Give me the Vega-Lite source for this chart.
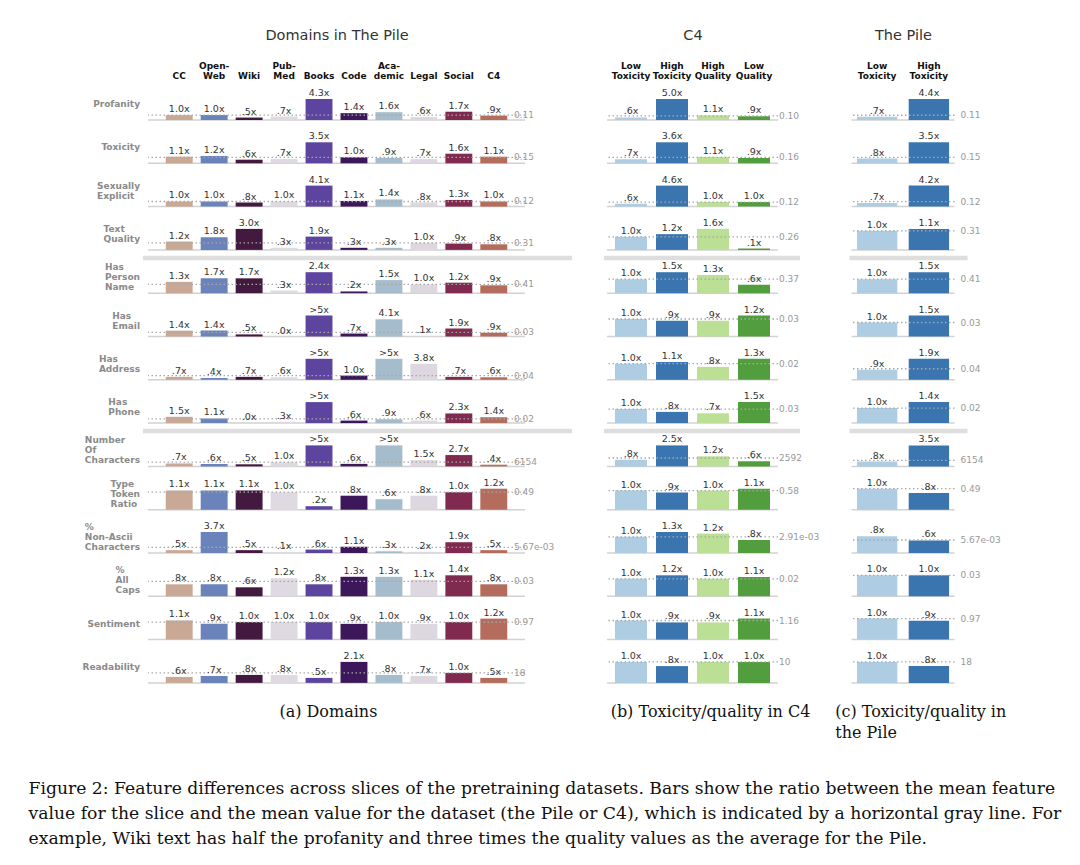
{
"$schema": "https://vega.github.io/schema/vega-lite/v6.json",
"background": "white",
"padding": {"left": 28, "top": 27, "right": 5, "bottom": 5},
"config": {"view": {"stroke": null}, "font": "DejaVu Sans", "axisY": {"disable": true}},
"title": {"text": ["Figure 2: Feature differences across slices of the pretraining datasets. Bars show the ratio between the mean feature", "value for the slice and the mean value for the dataset (the Pile or C4), which is indicated by a horizontal gray line. For", "example, Wiki text has half the profanity and three times the quality values as the average for the Pile."], "orient": "bottom", "anchor": "start", "font": "DejaVu Serif", "fontSize": 17.2, "fontWeight": "normal", "lineHeight": 25, "offset": 39, "dx": -54, "color": "#111"},
"datasets": {
"a": [
{"f":"Profanity","s":"CC","v":1.0,"t":"1.0x"},{"f":"Profanity","s":"Open-Web","v":1.0,"t":"1.0x"},{"f":"Profanity","s":"Wiki","v":0.5,"t":".5x"},{"f":"Profanity","s":"PubMed","v":0.7,"t":".7x"},{"f":"Profanity","s":"Books","v":4.3,"t":"4.3x"},{"f":"Profanity","s":"Code","v":1.4,"t":"1.4x"},{"f":"Profanity","s":"Academic","v":1.6,"t":"1.6x"},{"f":"Profanity","s":"Legal","v":0.6,"t":".6x"},{"f":"Profanity","s":"Social","v":1.7,"t":"1.7x"},{"f":"Profanity","s":"C4","v":0.9,"t":".9x"},
{"f":"Toxicity","s":"CC","v":1.1,"t":"1.1x"},{"f":"Toxicity","s":"Open-Web","v":1.2,"t":"1.2x"},{"f":"Toxicity","s":"Wiki","v":0.6,"t":".6x"},{"f":"Toxicity","s":"PubMed","v":0.7,"t":".7x"},{"f":"Toxicity","s":"Books","v":3.5,"t":"3.5x"},{"f":"Toxicity","s":"Code","v":1.0,"t":"1.0x"},{"f":"Toxicity","s":"Academic","v":0.9,"t":".9x"},{"f":"Toxicity","s":"Legal","v":0.7,"t":".7x"},{"f":"Toxicity","s":"Social","v":1.6,"t":"1.6x"},{"f":"Toxicity","s":"C4","v":1.1,"t":"1.1x"},
{"f":"Sexually Explicit","s":"CC","v":1.0,"t":"1.0x"},{"f":"Sexually Explicit","s":"Open-Web","v":1.0,"t":"1.0x"},{"f":"Sexually Explicit","s":"Wiki","v":0.8,"t":".8x"},{"f":"Sexually Explicit","s":"PubMed","v":1.0,"t":"1.0x"},{"f":"Sexually Explicit","s":"Books","v":4.1,"t":"4.1x"},{"f":"Sexually Explicit","s":"Code","v":1.1,"t":"1.1x"},{"f":"Sexually Explicit","s":"Academic","v":1.4,"t":"1.4x"},{"f":"Sexually Explicit","s":"Legal","v":0.8,"t":".8x"},{"f":"Sexually Explicit","s":"Social","v":1.3,"t":"1.3x"},{"f":"Sexually Explicit","s":"C4","v":1.0,"t":"1.0x"},
{"f":"Text Quality","s":"CC","v":1.2,"t":"1.2x"},{"f":"Text Quality","s":"Open-Web","v":1.8,"t":"1.8x"},{"f":"Text Quality","s":"Wiki","v":3.0,"t":"3.0x"},{"f":"Text Quality","s":"PubMed","v":0.3,"t":".3x"},{"f":"Text Quality","s":"Books","v":1.9,"t":"1.9x"},{"f":"Text Quality","s":"Code","v":0.3,"t":".3x"},{"f":"Text Quality","s":"Academic","v":0.3,"t":".3x"},{"f":"Text Quality","s":"Legal","v":1.0,"t":"1.0x"},{"f":"Text Quality","s":"Social","v":0.9,"t":".9x"},{"f":"Text Quality","s":"C4","v":0.8,"t":".8x"},
{"f":"Has Person Name","s":"CC","v":1.3,"t":"1.3x"},{"f":"Has Person Name","s":"Open-Web","v":1.7,"t":"1.7x"},{"f":"Has Person Name","s":"Wiki","v":1.7,"t":"1.7x"},{"f":"Has Person Name","s":"PubMed","v":0.3,"t":".3x"},{"f":"Has Person Name","s":"Books","v":2.4,"t":"2.4x"},{"f":"Has Person Name","s":"Code","v":0.2,"t":".2x"},{"f":"Has Person Name","s":"Academic","v":1.5,"t":"1.5x"},{"f":"Has Person Name","s":"Legal","v":1.0,"t":"1.0x"},{"f":"Has Person Name","s":"Social","v":1.2,"t":"1.2x"},{"f":"Has Person Name","s":"C4","v":0.9,"t":".9x"},
{"f":"Has Email","s":"CC","v":1.4,"t":"1.4x"},{"f":"Has Email","s":"Open-Web","v":1.4,"t":"1.4x"},{"f":"Has Email","s":"Wiki","v":0.5,"t":".5x"},{"f":"Has Email","s":"PubMed","v":0.0,"t":".0x"},{"f":"Has Email","s":"Books","v":5.0,"t":">5x"},{"f":"Has Email","s":"Code","v":0.7,"t":".7x"},{"f":"Has Email","s":"Academic","v":4.1,"t":"4.1x"},{"f":"Has Email","s":"Legal","v":0.1,"t":".1x"},{"f":"Has Email","s":"Social","v":1.9,"t":"1.9x"},{"f":"Has Email","s":"C4","v":0.9,"t":".9x"},
{"f":"Has Address","s":"CC","v":0.7,"t":".7x"},{"f":"Has Address","s":"Open-Web","v":0.4,"t":".4x"},{"f":"Has Address","s":"Wiki","v":0.7,"t":".7x"},{"f":"Has Address","s":"PubMed","v":0.6,"t":".6x"},{"f":"Has Address","s":"Books","v":5.0,"t":">5x"},{"f":"Has Address","s":"Code","v":1.0,"t":"1.0x"},{"f":"Has Address","s":"Academic","v":5.0,"t":">5x"},{"f":"Has Address","s":"Legal","v":3.8,"t":"3.8x"},{"f":"Has Address","s":"Social","v":0.7,"t":".7x"},{"f":"Has Address","s":"C4","v":0.6,"t":".6x"},
{"f":"Has Phone","s":"CC","v":1.5,"t":"1.5x"},{"f":"Has Phone","s":"Open-Web","v":1.1,"t":"1.1x"},{"f":"Has Phone","s":"Wiki","v":0.0,"t":".0x"},{"f":"Has Phone","s":"PubMed","v":0.3,"t":".3x"},{"f":"Has Phone","s":"Books","v":5.0,"t":">5x"},{"f":"Has Phone","s":"Code","v":0.6,"t":".6x"},{"f":"Has Phone","s":"Academic","v":0.9,"t":".9x"},{"f":"Has Phone","s":"Legal","v":0.6,"t":".6x"},{"f":"Has Phone","s":"Social","v":2.3,"t":"2.3x"},{"f":"Has Phone","s":"C4","v":1.4,"t":"1.4x"},
{"f":"Number Of Characters","s":"CC","v":0.7,"t":".7x"},{"f":"Number Of Characters","s":"Open-Web","v":0.6,"t":".6x"},{"f":"Number Of Characters","s":"Wiki","v":0.5,"t":".5x"},{"f":"Number Of Characters","s":"PubMed","v":1.0,"t":"1.0x"},{"f":"Number Of Characters","s":"Books","v":5.0,"t":">5x"},{"f":"Number Of Characters","s":"Code","v":0.6,"t":".6x"},{"f":"Number Of Characters","s":"Academic","v":5.0,"t":">5x"},{"f":"Number Of Characters","s":"Legal","v":1.5,"t":"1.5x"},{"f":"Number Of Characters","s":"Social","v":2.7,"t":"2.7x"},{"f":"Number Of Characters","s":"C4","v":0.4,"t":".4x"},
{"f":"Type Token Ratio","s":"CC","v":1.1,"t":"1.1x"},{"f":"Type Token Ratio","s":"Open-Web","v":1.1,"t":"1.1x"},{"f":"Type Token Ratio","s":"Wiki","v":1.1,"t":"1.1x"},{"f":"Type Token Ratio","s":"PubMed","v":1.0,"t":"1.0x"},{"f":"Type Token Ratio","s":"Books","v":0.2,"t":".2x"},{"f":"Type Token Ratio","s":"Code","v":0.8,"t":".8x"},{"f":"Type Token Ratio","s":"Academic","v":0.6,"t":".6x"},{"f":"Type Token Ratio","s":"Legal","v":0.8,"t":".8x"},{"f":"Type Token Ratio","s":"Social","v":1.0,"t":"1.0x"},{"f":"Type Token Ratio","s":"C4","v":1.2,"t":"1.2x"},
{"f":"% Non-Ascii Characters","s":"CC","v":0.5,"t":".5x"},{"f":"% Non-Ascii Characters","s":"Open-Web","v":3.7,"t":"3.7x"},{"f":"% Non-Ascii Characters","s":"Wiki","v":0.5,"t":".5x"},{"f":"% Non-Ascii Characters","s":"PubMed","v":0.1,"t":".1x"},{"f":"% Non-Ascii Characters","s":"Books","v":0.6,"t":".6x"},{"f":"% Non-Ascii Characters","s":"Code","v":1.1,"t":"1.1x"},{"f":"% Non-Ascii Characters","s":"Academic","v":0.3,"t":".3x"},{"f":"% Non-Ascii Characters","s":"Legal","v":0.2,"t":".2x"},{"f":"% Non-Ascii Characters","s":"Social","v":1.9,"t":"1.9x"},{"f":"% Non-Ascii Characters","s":"C4","v":0.5,"t":".5x"},
{"f":"% All Caps","s":"CC","v":0.8,"t":".8x"},{"f":"% All Caps","s":"Open-Web","v":0.8,"t":".8x"},{"f":"% All Caps","s":"Wiki","v":0.6,"t":".6x"},{"f":"% All Caps","s":"PubMed","v":1.2,"t":"1.2x"},{"f":"% All Caps","s":"Books","v":0.8,"t":".8x"},{"f":"% All Caps","s":"Code","v":1.3,"t":"1.3x"},{"f":"% All Caps","s":"Academic","v":1.3,"t":"1.3x"},{"f":"% All Caps","s":"Legal","v":1.1,"t":"1.1x"},{"f":"% All Caps","s":"Social","v":1.4,"t":"1.4x"},{"f":"% All Caps","s":"C4","v":0.8,"t":".8x"},
{"f":"Sentiment","s":"CC","v":1.1,"t":"1.1x"},{"f":"Sentiment","s":"Open-Web","v":0.9,"t":".9x"},{"f":"Sentiment","s":"Wiki","v":1.0,"t":"1.0x"},{"f":"Sentiment","s":"PubMed","v":1.0,"t":"1.0x"},{"f":"Sentiment","s":"Books","v":1.0,"t":"1.0x"},{"f":"Sentiment","s":"Code","v":0.9,"t":".9x"},{"f":"Sentiment","s":"Academic","v":1.0,"t":"1.0x"},{"f":"Sentiment","s":"Legal","v":0.9,"t":".9x"},{"f":"Sentiment","s":"Social","v":1.0,"t":"1.0x"},{"f":"Sentiment","s":"C4","v":1.2,"t":"1.2x"},
{"f":"Readability","s":"CC","v":0.6,"t":".6x"},{"f":"Readability","s":"Open-Web","v":0.7,"t":".7x"},{"f":"Readability","s":"Wiki","v":0.8,"t":".8x"},{"f":"Readability","s":"PubMed","v":0.8,"t":".8x"},{"f":"Readability","s":"Books","v":0.5,"t":".5x"},{"f":"Readability","s":"Code","v":2.1,"t":"2.1x"},{"f":"Readability","s":"Academic","v":0.8,"t":".8x"},{"f":"Readability","s":"Legal","v":0.7,"t":".7x"},{"f":"Readability","s":"Social","v":1.0,"t":"1.0x"},{"f":"Readability","s":"C4","v":0.5,"t":".5x"},
{"f":"Profanity","mean":"0.11","m":1},{"f":"Toxicity","mean":"0.15","m":1},{"f":"Sexually Explicit","mean":"0.12","m":1},{"f":"Text Quality","mean":"0.31","m":1,"sep":true},{"f":"Has Person Name","mean":"0.41","m":1},{"f":"Has Email","mean":"0.03","m":1},{"f":"Has Address","mean":"0.04","m":1},{"f":"Has Phone","mean":"0.02","m":1,"sep":true},{"f":"Number Of Characters","mean":"6154","m":1},{"f":"Type Token Ratio","mean":"0.49","m":1},{"f":"% Non-Ascii Characters","mean":"5.67e-03","m":1},{"f":"% All Caps","mean":"0.03","m":1},{"f":"Sentiment","mean":"0.97","m":1},{"f":"Readability","mean":"18","m":1}
],
"b": [
{"f":"Profanity","s":"Low Toxicity","v":0.6,"t":".6x"},{"f":"Profanity","s":"High Toxicity","v":5.0,"t":"5.0x"},{"f":"Profanity","s":"High Quality","v":1.1,"t":"1.1x"},{"f":"Profanity","s":"Low Quality","v":0.9,"t":".9x"},
{"f":"Toxicity","s":"Low Toxicity","v":0.7,"t":".7x"},{"f":"Toxicity","s":"High Toxicity","v":3.6,"t":"3.6x"},{"f":"Toxicity","s":"High Quality","v":1.1,"t":"1.1x"},{"f":"Toxicity","s":"Low Quality","v":0.9,"t":".9x"},
{"f":"Sexually Explicit","s":"Low Toxicity","v":0.6,"t":".6x"},{"f":"Sexually Explicit","s":"High Toxicity","v":4.6,"t":"4.6x"},{"f":"Sexually Explicit","s":"High Quality","v":1.0,"t":"1.0x"},{"f":"Sexually Explicit","s":"Low Quality","v":1.0,"t":"1.0x"},
{"f":"Text Quality","s":"Low Toxicity","v":1.0,"t":"1.0x"},{"f":"Text Quality","s":"High Toxicity","v":1.2,"t":"1.2x"},{"f":"Text Quality","s":"High Quality","v":1.6,"t":"1.6x"},{"f":"Text Quality","s":"Low Quality","v":0.1,"t":".1x"},
{"f":"Has Person Name","s":"Low Toxicity","v":1.0,"t":"1.0x"},{"f":"Has Person Name","s":"High Toxicity","v":1.5,"t":"1.5x"},{"f":"Has Person Name","s":"High Quality","v":1.3,"t":"1.3x"},{"f":"Has Person Name","s":"Low Quality","v":0.6,"t":".6x"},
{"f":"Has Email","s":"Low Toxicity","v":1.0,"t":"1.0x"},{"f":"Has Email","s":"High Toxicity","v":0.9,"t":".9x"},{"f":"Has Email","s":"High Quality","v":0.9,"t":".9x"},{"f":"Has Email","s":"Low Quality","v":1.2,"t":"1.2x"},
{"f":"Has Address","s":"Low Toxicity","v":1.0,"t":"1.0x"},{"f":"Has Address","s":"High Toxicity","v":1.1,"t":"1.1x"},{"f":"Has Address","s":"High Quality","v":0.8,"t":".8x"},{"f":"Has Address","s":"Low Quality","v":1.3,"t":"1.3x"},
{"f":"Has Phone","s":"Low Toxicity","v":1.0,"t":"1.0x"},{"f":"Has Phone","s":"High Toxicity","v":0.8,"t":".8x"},{"f":"Has Phone","s":"High Quality","v":0.7,"t":".7x"},{"f":"Has Phone","s":"Low Quality","v":1.5,"t":"1.5x"},
{"f":"Number Of Characters","s":"Low Toxicity","v":0.8,"t":".8x"},{"f":"Number Of Characters","s":"High Toxicity","v":2.5,"t":"2.5x"},{"f":"Number Of Characters","s":"High Quality","v":1.2,"t":"1.2x"},{"f":"Number Of Characters","s":"Low Quality","v":0.6,"t":".6x"},
{"f":"Type Token Ratio","s":"Low Toxicity","v":1.0,"t":"1.0x"},{"f":"Type Token Ratio","s":"High Toxicity","v":0.9,"t":".9x"},{"f":"Type Token Ratio","s":"High Quality","v":1.0,"t":"1.0x"},{"f":"Type Token Ratio","s":"Low Quality","v":1.1,"t":"1.1x"},
{"f":"% Non-Ascii Characters","s":"Low Toxicity","v":1.0,"t":"1.0x"},{"f":"% Non-Ascii Characters","s":"High Toxicity","v":1.3,"t":"1.3x"},{"f":"% Non-Ascii Characters","s":"High Quality","v":1.2,"t":"1.2x"},{"f":"% Non-Ascii Characters","s":"Low Quality","v":0.8,"t":".8x"},
{"f":"% All Caps","s":"Low Toxicity","v":1.0,"t":"1.0x"},{"f":"% All Caps","s":"High Toxicity","v":1.2,"t":"1.2x"},{"f":"% All Caps","s":"High Quality","v":1.0,"t":"1.0x"},{"f":"% All Caps","s":"Low Quality","v":1.1,"t":"1.1x"},
{"f":"Sentiment","s":"Low Toxicity","v":1.0,"t":"1.0x"},{"f":"Sentiment","s":"High Toxicity","v":0.9,"t":".9x"},{"f":"Sentiment","s":"High Quality","v":0.9,"t":".9x"},{"f":"Sentiment","s":"Low Quality","v":1.1,"t":"1.1x"},
{"f":"Readability","s":"Low Toxicity","v":1.0,"t":"1.0x"},{"f":"Readability","s":"High Toxicity","v":0.8,"t":".8x"},{"f":"Readability","s":"High Quality","v":1.0,"t":"1.0x"},{"f":"Readability","s":"Low Quality","v":1.0,"t":"1.0x"},
{"f":"Profanity","mean":"0.10","m":1},{"f":"Toxicity","mean":"0.16","m":1},{"f":"Sexually Explicit","mean":"0.12","m":1},{"f":"Text Quality","mean":"0.26","m":1,"sep":true},{"f":"Has Person Name","mean":"0.37","m":1},{"f":"Has Email","mean":"0.03","m":1},{"f":"Has Address","mean":"0.02","m":1},{"f":"Has Phone","mean":"0.03","m":1,"sep":true},{"f":"Number Of Characters","mean":"2592","m":1},{"f":"Type Token Ratio","mean":"0.58","m":1},{"f":"% Non-Ascii Characters","mean":"2.91e-03","m":1},{"f":"% All Caps","mean":"0.02","m":1},{"f":"Sentiment","mean":"1.16","m":1},{"f":"Readability","mean":"10","m":1}
],
"c": [
{"f":"Profanity","s":"Low Toxicity","v":0.7,"t":".7x"},{"f":"Profanity","s":"High Toxicity","v":4.4,"t":"4.4x"},
{"f":"Toxicity","s":"Low Toxicity","v":0.8,"t":".8x"},{"f":"Toxicity","s":"High Toxicity","v":3.5,"t":"3.5x"},
{"f":"Sexually Explicit","s":"Low Toxicity","v":0.7,"t":".7x"},{"f":"Sexually Explicit","s":"High Toxicity","v":4.2,"t":"4.2x"},
{"f":"Text Quality","s":"Low Toxicity","v":1.0,"t":"1.0x"},{"f":"Text Quality","s":"High Toxicity","v":1.1,"t":"1.1x"},
{"f":"Has Person Name","s":"Low Toxicity","v":1.0,"t":"1.0x"},{"f":"Has Person Name","s":"High Toxicity","v":1.5,"t":"1.5x"},
{"f":"Has Email","s":"Low Toxicity","v":1.0,"t":"1.0x"},{"f":"Has Email","s":"High Toxicity","v":1.5,"t":"1.5x"},
{"f":"Has Address","s":"Low Toxicity","v":0.9,"t":".9x"},{"f":"Has Address","s":"High Toxicity","v":1.9,"t":"1.9x"},
{"f":"Has Phone","s":"Low Toxicity","v":1.0,"t":"1.0x"},{"f":"Has Phone","s":"High Toxicity","v":1.4,"t":"1.4x"},
{"f":"Number Of Characters","s":"Low Toxicity","v":0.8,"t":".8x"},{"f":"Number Of Characters","s":"High Toxicity","v":3.5,"t":"3.5x"},
{"f":"Type Token Ratio","s":"Low Toxicity","v":1.0,"t":"1.0x"},{"f":"Type Token Ratio","s":"High Toxicity","v":0.8,"t":".8x"},
{"f":"% Non-Ascii Characters","s":"Low Toxicity","v":0.8,"t":".8x"},{"f":"% Non-Ascii Characters","s":"High Toxicity","v":0.6,"t":".6x"},
{"f":"% All Caps","s":"Low Toxicity","v":1.0,"t":"1.0x"},{"f":"% All Caps","s":"High Toxicity","v":1.0,"t":"1.0x"},
{"f":"Sentiment","s":"Low Toxicity","v":1.0,"t":"1.0x"},{"f":"Sentiment","s":"High Toxicity","v":0.9,"t":".9x"},
{"f":"Readability","s":"Low Toxicity","v":1.0,"t":"1.0x"},{"f":"Readability","s":"High Toxicity","v":0.8,"t":".8x"},
{"f":"Profanity","mean":"0.11","m":1},{"f":"Toxicity","mean":"0.15","m":1},{"f":"Sexually Explicit","mean":"0.12","m":1},{"f":"Text Quality","mean":"0.31","m":1,"sep":true},{"f":"Has Person Name","mean":"0.41","m":1},{"f":"Has Email","mean":"0.03","m":1},{"f":"Has Address","mean":"0.04","m":1},{"f":"Has Phone","mean":"0.02","m":1,"sep":true},{"f":"Number Of Characters","mean":"6154","m":1},{"f":"Type Token Ratio","mean":"0.49","m":1},{"f":"% Non-Ascii Characters","mean":"5.67e-03","m":0.62},{"f":"% All Caps","mean":"0.03","m":1},{"f":"Sentiment","mean":"0.97","m":1},{"f":"Readability","mean":"18","m":1}
]
},
"spacing": 26,
"hconcat": [
{
"data": {"name": "a"},
"title": {"text": "(a) Domains", "orient": "bottom", "anchor": "middle", "font": "DejaVu Serif", "fontSize": 16, "fontWeight": "normal", "color": "#111", "offset": 20},
"bounds": "flush",
"facet": {"row": {"field": "f", "type": "nominal", "title": null, "sort": ["Profanity","Toxicity","Sexually Explicit","Text Quality","Has Person Name","Has Email","Has Address","Has Phone","Number Of Characters","Type Token Ratio","% Non-Ascii Characters","% All Caps","Sentiment","Readability"],
 "header": {"labelAngle": 0, "labelAlign": "left", "labelAnchor": "end", "labelBaseline": "bottom", "labelFontWeight": "bold", "labelFontSize": 9, "labelColor": "#8a8a8a", "labelPadding": 8, "labelLineHeight": 5,
 "labelExpr": "length(split(datum.label,' '))==1 ? ['\u200b','\u200b',datum.label] : length(split(datum.label,' '))==2 ? ['\u200b', split(datum.label,' ')[0], '\u200b', split(datum.label,' ')[1]] : [split(datum.label,' ')[0], '\u200b', split(datum.label,' ')[1], '\u200b', split(datum.label,' ')[2]]"}}},
"spacing": {"row": 22.3},
"resolve": {"scale": {"y": "independent"}},
"spec": {
"width": 377, "height": 21,
"layer": [
{"transform": [{"filter": "isValid(datum.mean)"}], "mark": {"type": "rule", "color": "#d2d2d2", "strokeWidth": 1.5}, "encoding": {"y": {"datum": 0, "type": "quantitative", "axis": null}}},
{"transform": [{"filter": "datum.sep == true"}], "mark": {"type": "rule", "color": "#dedede", "strokeWidth": 4.5, "yOffset": 8, "xOffset": -5, "x2Offset": 47}, "encoding": {"x": {"value": 0}, "x2": {"value": "width"}, "y": {"datum": 0, "type": "quantitative", "axis": null}}},
{"transform": [{"filter": "isValid(datum.s)"}], "mark": {"type": "bar"},
 "encoding": {
  "x": {"field": "s", "type": "nominal", "scale": {"domain": ["CC","Open-Web","Wiki","PubMed","Books","Code","Academic","Legal","Social","C4"], "paddingInner": 0.23, "paddingOuter": 0.508},
   "axis": {"orient": "top", "title": "Domains in The Pile", "titleFontSize": 14.5, "titleFontWeight": "normal", "titleColor": "#333", "titlePadding": 19, "labelFontWeight": "bold", "labelFontSize": 9, "labelColor": "#111", "labelPadding": 29, "ticks": false, "domain": false, "labelAngle": 0, "labelLineHeight": 10, "labelOverlap": false,
   "labelExpr": "datum.label == 'Open-Web' ? ['Open-','Web'] : datum.label == 'PubMed' ? ['Pub-','Med'] : datum.label == 'Academic' ? ['Aca-','demic'] : ['\u200b', datum.label]"}},
  "y": {"field": "v", "type": "quantitative", "axis": null, "scale": {"zero": true, "nice": false}},
  "color": {"field": "s", "type": "nominal", "legend": null, "scale": {"domain": ["CC","Open-Web","Wiki","PubMed","Books","Code","Academic","Legal","Social","C4","Low Toxicity","High Toxicity","High Quality","Low Quality"], "range": ["#c9a995","#6b83bb","#44193f","#dfdae1","#5c449f","#3c185a","#a4bccb","#ddd7df","#802a4f","#b46c5c","#aecde3","#3a75af","#badf95","#529e3f"]}}
 }},
{"transform": [{"filter": "isValid(datum.mean)"}], "mark": {"type": "rule", "opacity": 0}, "encoding": {"y": {"datum": 1, "type": "quantitative", "axis": null}}},
{"transform": [{"filter": "isValid(datum.mean)"}], "mark": {"type": "rule", "color": "#a8a8a8", "strokeWidth": 1.3, "strokeDash": [1.5, 2.5]}, "encoding": {"y": {"field": "m", "type": "quantitative", "axis": null}}},
{"transform": [{"filter": "isValid(datum.s)"}], "mark": {"type": "text", "baseline": "bottom", "dy": -1, "fontSize": 9.5, "color": "#333"}, "encoding": {"x": {"field": "s", "type": "nominal"}, "y": {"field": "v", "type": "quantitative", "axis": null}, "text": {"field": "t"}}},
{"transform": [{"filter": "isValid(datum.mean)"}], "mark": {"type": "text", "align": "left", "baseline": "middle", "dx": -11, "fontSize": 9, "color": "#999"}, "encoding": {"x": {"value": "width"}, "y": {"field": "m", "type": "quantitative", "axis": null}, "text": {"field": "mean"}}}
]
}
},
{
"spacing": 14.5,
"hconcat": [
{
"data": {"name": "b"},
"title": {"text": "(b) Toxicity/quality in C4", "orient": "bottom", "anchor": "middle", "font": "DejaVu Serif", "fontSize": 16, "fontWeight": "normal", "color": "#111", "offset": 20},
"bounds": "flush",
"facet": {"row": {"field": "f", "type": "nominal", "title": null, "sort": ["Profanity","Toxicity","Sexually Explicit","Text Quality","Has Person Name","Has Email","Has Address","Has Phone","Number Of Characters","Type Token Ratio","% Non-Ascii Characters","% All Caps","Sentiment","Readability"], "header": {"labels": false}}},
"spacing": {"row": 22.3},
"resolve": {"scale": {"y": "independent"}},
"spec": {
"width": 171, "height": 21,
"layer": [
{"transform": [{"filter": "isValid(datum.mean)"}], "mark": {"type": "rule", "color": "#d2d2d2", "strokeWidth": 1.5}, "encoding": {"y": {"datum": 0, "type": "quantitative", "axis": null}}},
{"transform": [{"filter": "datum.sep == true"}], "mark": {"type": "rule", "color": "#dedede", "strokeWidth": 4.5, "yOffset": 8, "xOffset": -3, "x2Offset": 22}, "encoding": {"x": {"value": 0}, "x2": {"value": "width"}, "y": {"datum": 0, "type": "quantitative", "axis": null}}},
{"transform": [{"filter": "isValid(datum.s)"}], "mark": {"type": "bar"},
 "encoding": {
  "x": {"field": "s", "type": "nominal", "scale": {"domain": ["Low Toxicity","High Toxicity","High Quality","Low Quality"], "paddingInner": 0.22, "paddingOuter": 0.195},
   "axis": {"orient": "top", "title": "C4", "titleFontSize": 14.5, "titleFontWeight": "normal", "titleColor": "#333", "titlePadding": 19, "labelFontWeight": "bold", "labelFontSize": 9, "labelColor": "#111", "labelPadding": 29, "ticks": false, "domain": false, "labelAngle": 0, "labelLineHeight": 10, "labelOverlap": false, "labelExpr": "split(datum.label, ' ')"}},
  "y": {"field": "v", "type": "quantitative", "axis": null, "scale": {"zero": true, "nice": false}},
  "color": {"field": "s", "type": "nominal", "legend": null, "scale": {"domain": ["CC","Open-Web","Wiki","PubMed","Books","Code","Academic","Legal","Social","C4","Low Toxicity","High Toxicity","High Quality","Low Quality"], "range": ["#c9a995","#6b83bb","#44193f","#dfdae1","#5c449f","#3c185a","#a4bccb","#ddd7df","#802a4f","#b46c5c","#aecde3","#3a75af","#badf95","#529e3f"]}}
 }},
{"transform": [{"filter": "isValid(datum.mean)"}], "mark": {"type": "rule", "opacity": 0}, "encoding": {"y": {"datum": 1, "type": "quantitative", "axis": null}}},
{"transform": [{"filter": "isValid(datum.mean)"}], "mark": {"type": "rule", "color": "#a8a8a8", "strokeWidth": 1.3, "strokeDash": [1.5, 2.5]}, "encoding": {"y": {"field": "m", "type": "quantitative", "axis": null}}},
{"transform": [{"filter": "isValid(datum.s)"}], "mark": {"type": "text", "baseline": "bottom", "dy": -1, "fontSize": 9.5, "color": "#333"}, "encoding": {"x": {"field": "s", "type": "nominal"}, "y": {"field": "v", "type": "quantitative", "axis": null}, "text": {"field": "t"}}},
{"transform": [{"filter": "isValid(datum.mean)"}], "mark": {"type": "text", "align": "left", "baseline": "middle", "dx": 1, "fontSize": 9, "color": "#999"}, "encoding": {"x": {"value": "width"}, "y": {"field": "m", "type": "quantitative", "axis": null}, "text": {"field": "mean"}}}
]
}
},
{
"data": {"name": "c"},
"title": {"text": ["(c) Toxicity/quality in", "the Pile"], "orient": "bottom", "anchor": "start", "align": "left", "dx": -12, "font": "DejaVu Serif", "fontSize": 16, "fontWeight": "normal", "color": "#111", "offset": 20, "lineHeight": 21},
"bounds": "flush",
"facet": {"row": {"field": "f", "type": "nominal", "title": null, "sort": ["Profanity","Toxicity","Sexually Explicit","Text Quality","Has Person Name","Has Email","Has Address","Has Phone","Number Of Characters","Type Token Ratio","% Non-Ascii Characters","% All Caps","Sentiment","Readability"], "header": {"labels": false}}},
"spacing": {"row": 22.3},
"resolve": {"scale": {"y": "independent"}},
"spec": {
"width": 103, "height": 21,
"layer": [
{"transform": [{"filter": "isValid(datum.mean)"}], "mark": {"type": "rule", "color": "#d2d2d2", "strokeWidth": 1.5}, "encoding": {"y": {"datum": 0, "type": "quantitative", "axis": null}}},
{"transform": [{"filter": "datum.sep == true"}], "mark": {"type": "rule", "color": "#dedede", "strokeWidth": 4.5, "yOffset": 8, "xOffset": -2, "x2Offset": 13}, "encoding": {"x": {"value": 0}, "x2": {"value": "width"}, "y": {"datum": 0, "type": "quantitative", "axis": null}}},
{"transform": [{"filter": "isValid(datum.s)"}], "mark": {"type": "bar"},
 "encoding": {
  "x": {"field": "s", "type": "nominal", "scale": {"domain": ["Low Toxicity","High Toxicity"], "paddingInner": 0.22, "paddingOuter": 0.105},
   "axis": {"orient": "top", "title": "The Pile", "titleFontSize": 14.5, "titleFontWeight": "normal", "titleColor": "#333", "titlePadding": 19, "labelFontWeight": "bold", "labelFontSize": 9, "labelColor": "#111", "labelPadding": 29, "ticks": false, "domain": false, "labelAngle": 0, "labelLineHeight": 10, "labelOverlap": false, "labelExpr": "split(datum.label, ' ')"}},
  "y": {"field": "v", "type": "quantitative", "axis": null, "scale": {"zero": true, "nice": false}},
  "color": {"field": "s", "type": "nominal", "legend": null, "scale": {"domain": ["CC","Open-Web","Wiki","PubMed","Books","Code","Academic","Legal","Social","C4","Low Toxicity","High Toxicity","High Quality","Low Quality"], "range": ["#c9a995","#6b83bb","#44193f","#dfdae1","#5c449f","#3c185a","#a4bccb","#ddd7df","#802a4f","#b46c5c","#aecde3","#3a75af","#badf95","#529e3f"]}}
 }},
{"transform": [{"filter": "isValid(datum.mean)"}], "mark": {"type": "rule", "opacity": 0}, "encoding": {"y": {"datum": 1, "type": "quantitative", "axis": null}}},
{"transform": [{"filter": "isValid(datum.mean)"}], "mark": {"type": "rule", "color": "#a8a8a8", "strokeWidth": 1.3, "strokeDash": [1.5, 2.5]}, "encoding": {"y": {"field": "m", "type": "quantitative", "axis": null}}},
{"transform": [{"filter": "isValid(datum.s)"}], "mark": {"type": "text", "baseline": "bottom", "dy": -1, "fontSize": 9.5, "color": "#333"}, "encoding": {"x": {"field": "s", "type": "nominal"}, "y": {"field": "v", "type": "quantitative", "axis": null}, "text": {"field": "t"}}},
{"transform": [{"filter": "isValid(datum.mean)"}], "mark": {"type": "text", "align": "left", "baseline": "middle", "dx": 6, "fontSize": 9, "color": "#999"}, "encoding": {"x": {"value": "width"}, "y": {"field": "m", "type": "quantitative", "axis": null}, "text": {"field": "mean"}}}
]
}
}
]
}
]
}
